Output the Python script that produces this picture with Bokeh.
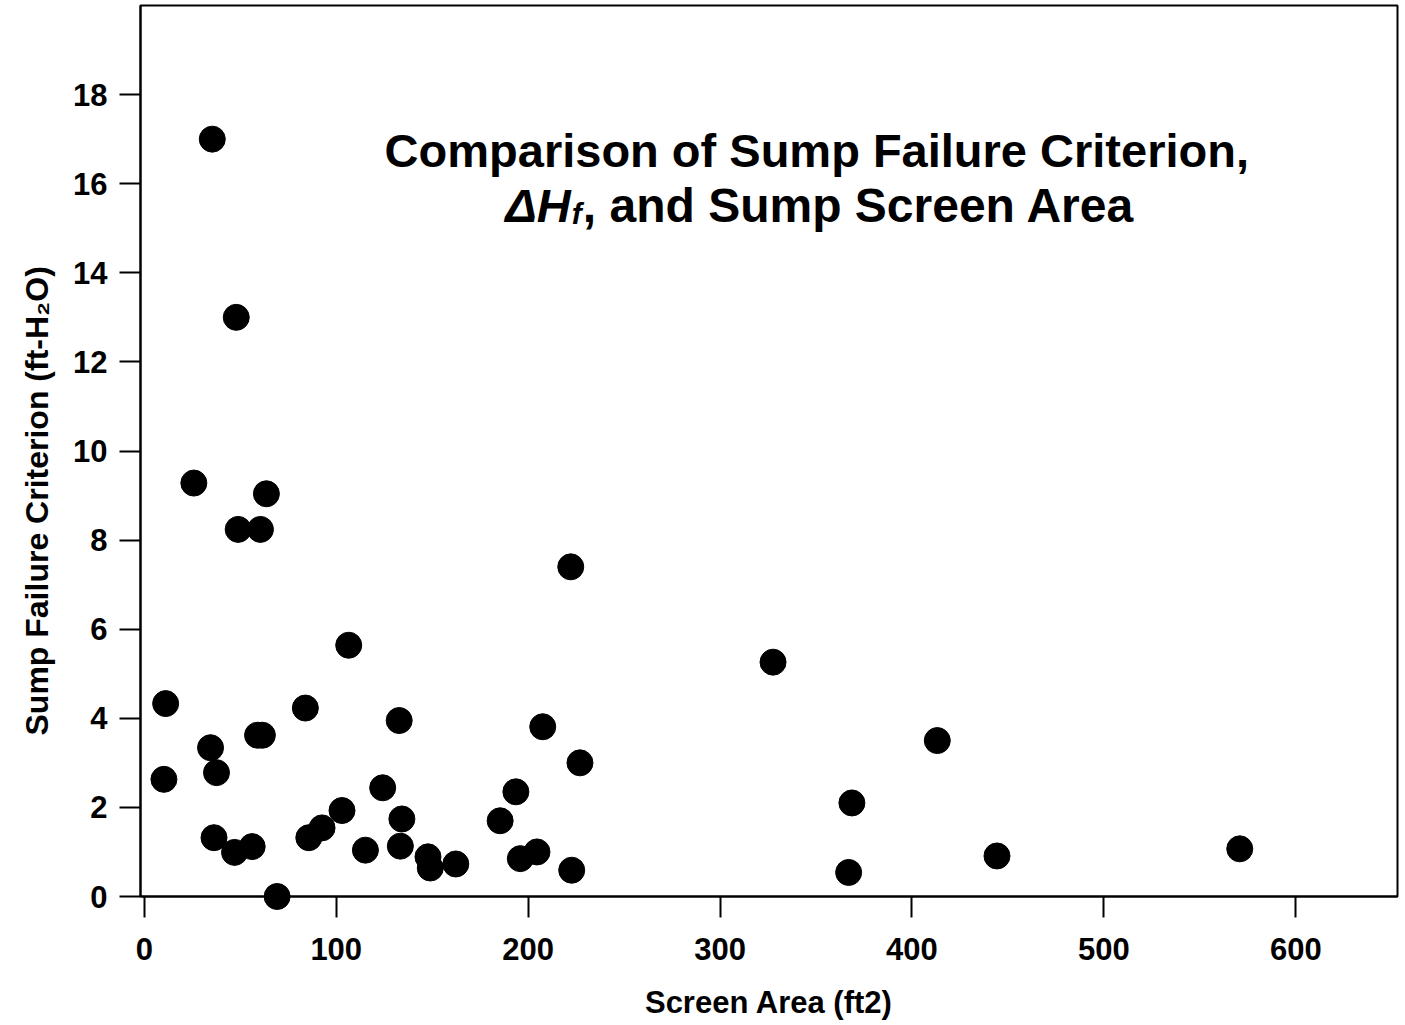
from bokeh.plotting import figure
from bokeh.models import Label, Range1d, FixedTicker, Title
from bokeh.embed import file_html
from bokeh.resources import INLINE

# Data (screen area ft2, sump failure criterion ft-H2O)
screen_area = [35.4, 47.9, 25.8, 63.6, 48.9, 60.5, 222.2, 106.5, 327.6, 11.1,
               83.9, 132.8, 207.6, 413.2, 59.0, 61.5, 34.5, 37.6, 10.2, 227.0,
               124.2, 193.6, 368.7, 103.0, 134.2, 185.4, 92.6, 85.7, 36.3, 56.2,
               47.0, 115.2, 133.4, 147.8, 149.0, 162.3, 195.9, 204.6, 222.7, 367.0,
               444.3, 570.8, 69.2]
failure_criterion = [17.0, 13.0, 9.28, 9.04, 8.24, 8.24, 7.4, 5.64, 5.26, 4.33,
                     4.23, 3.95, 3.81, 3.5, 3.62, 3.62, 3.34, 2.78, 2.63, 3.0,
                     2.44, 2.35, 2.1, 1.93, 1.74, 1.7, 1.54, 1.32, 1.32, 1.12,
                     0.99, 1.04, 1.13, 0.89, 0.64, 0.73, 0.85, 1.0, 0.59, 0.54,
                     0.91, 1.07, 0.0]
x_ticks = [0, 100, 200, 300, 400, 500, 600]
y_ticks = [0, 2, 4, 6, 8, 10, 12, 14, 16, 18]

title_line1 = "Comparison of Sump Failure Criterion,"
title_delta = "\u0394H"
title_sub = "f"
title_rest = ", and Sump Screen Area"
x_label = "Screen Area (ft2)"
y_label = "Sump Failure Criterion (ft-H\u2082O)"

FONT = "Liberation Sans"

p = figure(width=1402, height=1024,
           x_range=Range1d(-2, 653), y_range=Range1d(0, 20),
           output_backend="svg", toolbar_location=None,
           min_border_left=137, min_border_right=5,
           min_border_top=5, min_border_bottom=128)

p.background_fill_color = "white"
p.border_fill_color = "white"
p.grid.visible = False
p.outline_line_color = "black"
p.outline_line_width = 2
p.outline_line_alpha = 1.0

xa = p.xaxis[0]
xa.ticker = FixedTicker(ticks=x_ticks)
ya = p.yaxis[0]
ya.ticker = FixedTicker(ticks=y_ticks)
for ax in (xa, ya):
    ax.axis_line_color = "black"
    ax.axis_line_width = 2
    ax.major_tick_line_color = "black"
    ax.major_tick_line_width = 2
    ax.major_tick_in = 0
    ax.major_tick_out = 21
    ax.minor_tick_line_color = None
    ax.major_label_text_font = FONT
    ax.major_label_text_font_size = "31px"
    ax.major_label_text_font_style = "bold"
    ax.major_label_text_color = "black"

xa.major_label_standoff = 20
xa.axis_label = x_label
xa.axis_label_text_font = FONT
xa.axis_label_text_font_size = "31px"
xa.axis_label_text_font_style = "bold"
xa.axis_label_text_color = "black"
xa.axis_label_standoff = 22

ya.major_label_standoff = 12

r = p.scatter(screen_area, failure_criterion, size=26, marker="circle",
              fill_color="black", line_color="black")
r.level = "overlay"

# y-axis title, placed as a side title so it can be shifted along the axis
p.add_layout(Title(text=y_label, align="left", offset=161, standoff=32,
                   text_font=FONT, text_font_size="32px", text_font_style="bold",
                   text_color="black"), "left")

# Title inside the plot
TX = 350.4
Y1 = 16.75
Y2 = 15.52
p.add_layout(Label(x=TX, y=Y1, text=title_line1, text_align="center",
                   text_baseline="middle", text_font=FONT,
                   text_font_size="47px", text_font_style="bold", text_color="black"))
p.add_layout(Label(x=TX, y=Y2, x_offset=-246, text=title_delta, text_align="right",
                   text_baseline="middle", text_font=FONT,
                   text_font_size="47px", text_font_style="bold italic", text_color="black"))
p.add_layout(Label(x=TX, y=Y2, x_offset=-245, y_offset=-8, text=title_sub, text_align="left",
                   text_baseline="middle", text_font=FONT,
                   text_font_size="30px", text_font_style="bold italic", text_color="black"))
p.add_layout(Label(x=TX, y=Y2, x_offset=-234, text=title_rest, text_align="left",
                   text_baseline="middle", text_font=FONT,
                   text_font_size="48px", text_font_style="bold", text_color="black"))

open("out.html", "w").write(file_html(p, INLINE))
